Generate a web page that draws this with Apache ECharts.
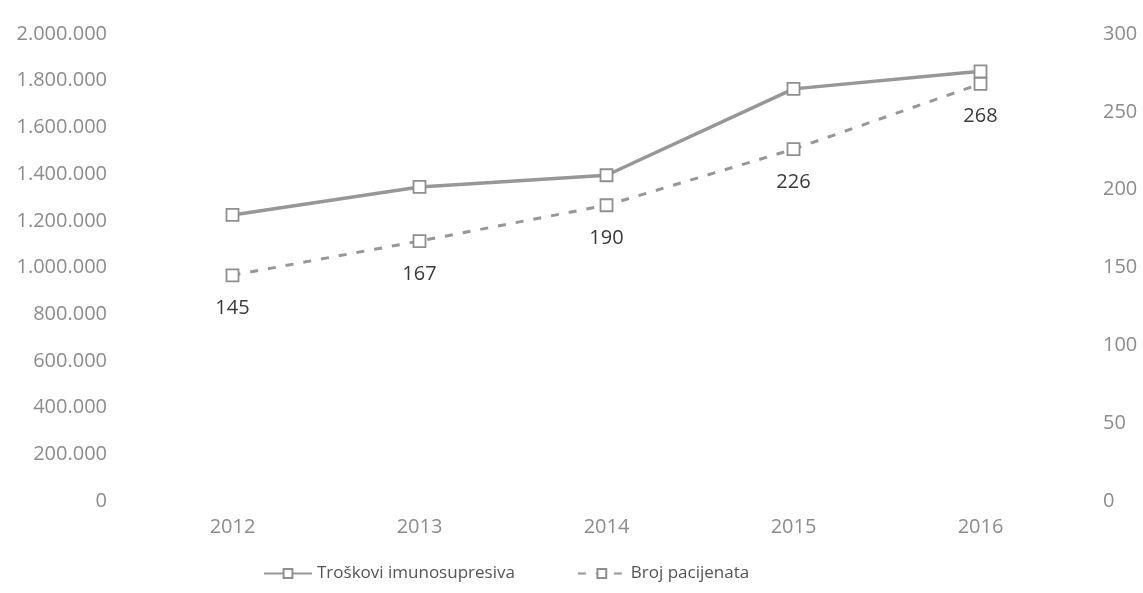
<!DOCTYPE html>
<html>
<head>
<meta charset="utf-8">
<script src="https://cdn.jsdelivr.net/npm/echarts@6/dist/echarts.min.js"></script>
<style>
  html, body { margin: 0; padding: 0; background: #fff; }
  #chart { width: 1143px; height: 593px; }
</style>
</head>
<body>
<div id="chart"></div>
<script>
// data
const years = ['2012', '2013', '2014', '2015', '2016']
const troskovi = [1225000, 1345000, 1395000, 1765000, 1840000]
const pacijenti = [145, 167, 190, 226, 268]

// 1.200.000 style
function fmtDot(v) {
  return String(v).replace(/\B(?=(\d{3})+(?!\d))/g, '.')
}

const axisText = { color: '#8c8c8c', fontSize: 20, fontFamily: 'Open Sans' }

const option = {
  animation: false,
  backgroundColor: '#fff',
  grid: { left: 139, right: 69, top: 34, bottom: 92 },
  legend: {
    bottom: 6,
    left: 258,
    itemWidth: 48,
    itemHeight: 11,
    itemGap: 62,
    textStyle: { color: '#555', fontSize: 17, fontFamily: 'Open Sans' },
    data: ['Troškovi imunosupresiva', 'Broj pacijenata']
  },
  xAxis: {
    type: 'category',
    data: years,
    axisLine: { show: false },
    axisTick: { show: false },
    axisLabel: Object.assign({ margin: 16 }, axisText)
  },
  yAxis: [
    {
      type: 'value',
      min: 0,
      max: 2000000,
      interval: 200000,
      splitLine: { show: false },
      axisLabel: Object.assign({ margin: 32, formatter: fmtDot }, axisText)
    },
    {
      type: 'value',
      min: 0,
      max: 300,
      interval: 50,
      splitLine: { show: false },
      axisLabel: Object.assign({ margin: 29 }, axisText)
    }
  ],
  series: [
    {
      name: 'Troškovi imunosupresiva',
      type: 'line',
      yAxisIndex: 0,
      data: troskovi,
      symbol: 'rect',
      symbolSize: 12,
      lineStyle: { color: '#979797', width: 3.5 },
      itemStyle: { color: '#fff', borderColor: '#8f8f8f', borderWidth: 1.8 }
    },
    {
      name: 'Broj pacijenata',
      type: 'line',
      yAxisIndex: 1,
      data: pacijenti,
      symbol: 'rect',
      symbolSize: 12,
      lineStyle: { color: '#979797', width: 3, type: [8, 10] },
      itemStyle: { color: '#fff', borderColor: '#8f8f8f', borderWidth: 1.8 },
      label: {
        show: true,
        position: 'bottom',
        distance: 16,
        color: '#3a3a3a',
        fontSize: 20,
        fontFamily: 'Open Sans'
      }
    }
  ]
}

const myChart = echarts.init(document.getElementById('chart'))
myChart.setOption(option)
</script>
</body>
</html>
